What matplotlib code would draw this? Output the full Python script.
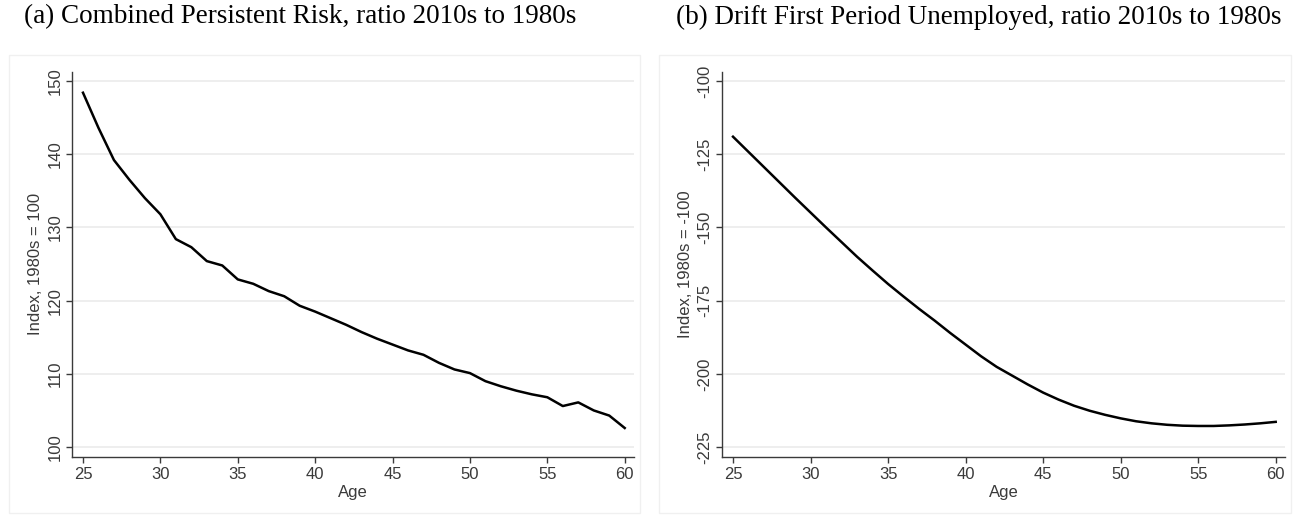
import numpy as np
import matplotlib
matplotlib.use("Agg")
import matplotlib.pyplot as plt
from matplotlib.patches import Rectangle

# ages on the x axis
age = np.arange(25, 61)

# (a) combined persistent risk, index 1980s = 100
persistent_risk = [148.4, 143.6, 139.2, 136.5, 134.0, 131.8, 128.4, 127.3, 125.4, 124.8,
                   122.9, 122.3, 121.3, 120.6, 119.3, 118.5, 117.6, 116.7, 115.7, 114.8,
                   114.0, 113.2, 112.6, 111.5, 110.6, 110.1, 109.0, 108.3, 107.7, 107.2,
                   106.8, 105.6, 106.1, 105.0, 104.3, 102.6]

# (b) drift first period unemployed, index 1980s = -100
drift_unemployed = [-119.0, -124.2, -129.4, -134.6, -139.8, -144.9, -150.0, -155.0, -160.0, -164.7,
                    -169.3, -173.6, -177.8, -181.8, -186.0, -190.0, -194.0, -197.6, -200.6, -203.6,
                    -206.4, -208.8, -210.9, -212.6, -214.0, -215.2, -216.2, -216.9, -217.4, -217.7,
                    -217.8, -217.8, -217.6, -217.3, -216.9, -216.4]

titles = ["(a) Combined Persistent Risk, ratio 2010s to 1980s",
          "(b) Drift First Period Unemployed, ratio 2010s to 1980s"]
ylabels = ["Index, 1980s = 100", "Index, 1980s = -100"]
yticks = [[100, 110, 120, 130, 140, 150], [-225, -200, -175, -150, -125, -100]]
ylims = [(98.64, 151.27), (-228.4, -96.8)]
xticks = [25, 30, 35, 40, 45, 50, 55, 60]

plt.rcParams['font.family'] = ['Liberation Sans', 'DejaVu Sans']
dark = '#3a3a3a'

fig = plt.figure(figsize=(12.97, 5.15), dpi=100)

# outer graph regions (faint boxes)
W, H = 1297, 515
for x0, x1 in [(9, 640), (659, 1291)]:
    fig.patches.append(Rectangle((x0 / W, 1 - 513 / H), (x1 - x0) / W, (513 - 55) / H,
                                 transform=fig.transFigure, fill=False,
                                 ec='#f0f0f0', lw=1.0))

axes = [fig.add_axes([72 / W, 1 - 457 / H, 562 / W, 385.3 / H]),
        fig.add_axes([722 / W, 1 - 457 / H, 563 / W, 385.3 / H])]

for i, (ax, y) in enumerate(zip(axes, [persistent_risk, drift_unemployed])):
    ax.plot(age, y, color='black', lw=1.8)
    ax.set_xlim(24.29, 60.6)
    ax.set_ylim(*ylims[i])
    ax.set_xticks(xticks)
    ax.set_yticks(yticks[i])
    ax.set_yticklabels([str(v) for v in yticks[i]], rotation=90, va='center')
    for v in yticks[i]:
        ax.axhline(v, color='#e9e9e9', lw=1.1, zorder=0)
    for s in ['top', 'right']:
        ax.spines[s].set_visible(False)
    for s in ['left', 'bottom']:
        ax.spines[s].set_color(dark)
        ax.spines[s].set_linewidth(1.0)
    ax.tick_params(colors=dark, labelcolor=dark, labelsize=12, length=4.5, width=1.0, pad=2.5)
    ax.set_xlabel("Age", fontsize=12, color=dark)
    ax.set_ylabel(ylabels[i], fontsize=12, color=dark)
    ax.xaxis.set_label_coords(0.5, -0.072)
    ax.yaxis.set_label_coords(-0.051, 0.5)

fig.text(300 / W, 1 - 17 / H, titles[0], family=['Liberation Serif', 'DejaVu Serif'],
         fontsize=19.5, ha='center', va='center', color='black')
fig.text(979 / W, 1 - 17 / H, titles[1], family=['Liberation Serif', 'DejaVu Serif'],
         fontsize=19.5, ha='center', va='center', color='black')

fig.savefig("out.png", dpi=100, facecolor='white')
